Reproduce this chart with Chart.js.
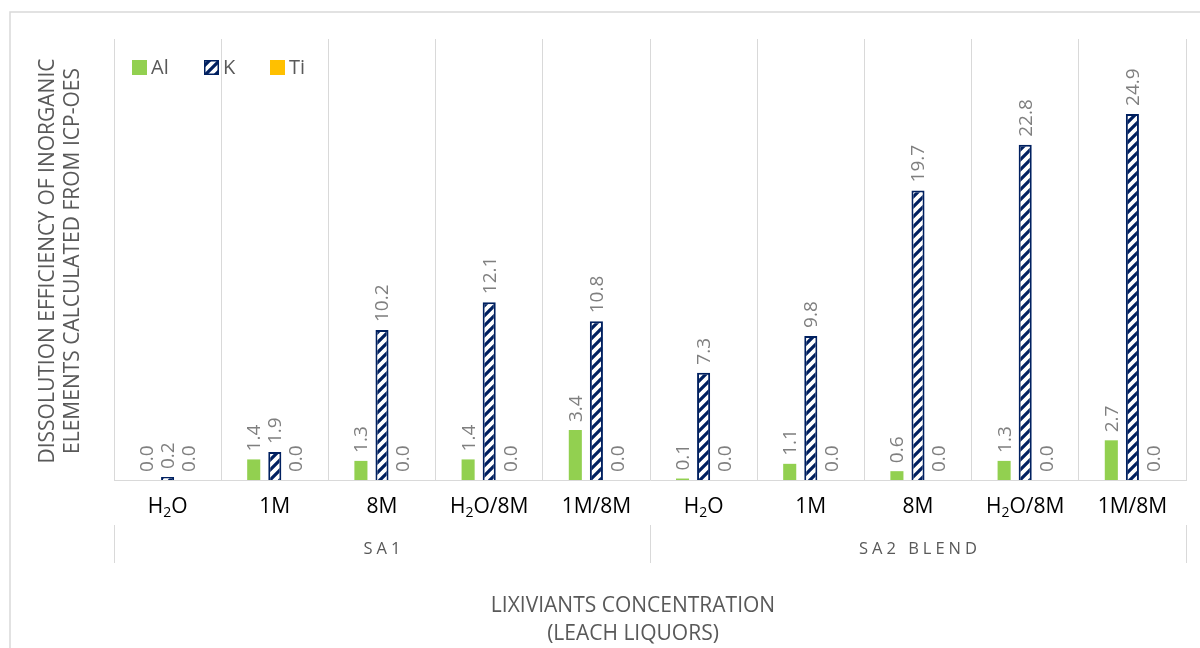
<!DOCTYPE html>
<html>
<head>
<meta charset="utf-8">
<script src="https://cdn.jsdelivr.net/npm/chart.js@4.4.1/dist/chart.umd.min.js"></script>
<style>
  html, body { margin: 0; padding: 0; background: #ffffff; }
  #wrap { width: 1200px; height: 648px; }
</style>
</head>
<body>
<div id="wrap"><canvas id="chart" width="1200" height="648"></canvas></div>
<script>
// Leach liquor conditions, grouped by sample
const categories = ["H₂O", "1M", "8M", "H₂O/8M", "1M/8M", "H₂O", "1M", "8M", "H₂O/8M", "1M/8M"];
const groups = ["SA1", "SA2 BLEND"];
const groupSizes = [5, 5];

// Dissolution efficiency (%) per element
const alValues = [0.0, 1.4, 1.3, 1.4, 3.4, 0.1, 1.1, 0.6, 1.3, 2.7];
const kValues  = [0.2, 1.9, 10.2, 12.1, 10.8, 7.3, 9.8, 19.7, 22.8, 24.9];
const tiValues = [0.0, 0.0, 0.0, 0.0, 0.0, 0.0, 0.0, 0.0, 0.0, 0.0];

const seriesNames = ["Al", "K", "Ti"];
const yTitle = ["DISSOLUTION EFFICIENCY OF INORGANIC", "ELEMENTS CALCULATED FROM ICP-OES"];
const xTitle = ["LIXIVIANTS CONCENTRATION", "(LEACH LIQUORS)"];

const FONT = "'Open Sans', 'Liberation Sans', sans-serif";
const GREEN = "#92d050";
const NAVY = "#002060";
const GOLD = "#ffc000";
const GRID = "#d9d9d9";

// White/navy diagonal hatch used for the K series
function makeHatch() {
  const p = 10;
  const c = document.createElement("canvas");
  c.width = p; c.height = p;
  const g = c.getContext("2d");
  g.fillStyle = "#ffffff";
  g.fillRect(0, 0, p, p);
  g.strokeStyle = NAVY;
  g.lineWidth = 3.2;
  g.lineCap = "square";
  for (const k of [-p, 0, p]) {
    g.beginPath();
    g.moveTo(k, p);
    g.lineTo(k + p, 0);
    g.stroke();
  }
  return g.createPattern(c, "repeat");
}
const hatch = makeHatch();

// Draw a label where "₂" is rendered as a lowered, smaller "2"
function drawRich(ctx, text, cx, cy, size) {
  const parts = text.split("₂");
  const big = size + "px " + FONT;
  const small = Math.round(size * 0.68) + "px " + FONT;
  let total = 0;
  const pieces = [];
  parts.forEach((s, i) => {
    ctx.font = big;
    pieces.push({ t: s, f: big, dy: 0, w: ctx.measureText(s).width });
    if (i < parts.length - 1) {
      ctx.font = small;
      pieces.push({ t: "2", f: small, dy: size * 0.28, w: ctx.measureText("2").width });
    }
  });
  pieces.forEach(p => total += p.w);
  let x = cx - total / 2;
  ctx.textAlign = "left";
  ctx.textBaseline = "middle";
  pieces.forEach(p => {
    ctx.font = p.f;
    ctx.fillText(p.t, x, cy + p.dy);
    x += p.w;
  });
}

function drawSpaced(ctx, text, cx, cy, spacing) {
  let w = 0;
  const ws = [...text].map(ch => ctx.measureText(ch).width);
  ws.forEach(v => w += v);
  w += spacing * (text.length - 1);
  let x = cx - w / 2;
  ctx.textAlign = "left";
  [...text].forEach((ch, i) => {
    ctx.fillText(ch, x, cy);
    x += ws[i] + spacing;
  });
}

const decorPlugin = {
  id: "decor",
  beforeDraw(chart) {
    const ctx = chart.ctx;
    ctx.save();
    ctx.fillStyle = "#ffffff";
    ctx.fillRect(0, 0, chart.width, chart.height);
    ctx.strokeStyle = GRID;
    ctx.lineWidth = 1.5;
    ctx.strokeRect(10, 12, 1400, 900);
    ctx.restore();
  },
  afterDatasetsDraw(chart) {
    const ctx = chart.ctx;
    ctx.save();
    ctx.fillStyle = "#7f7f7f";
    ctx.font = "19px " + FONT;
    ctx.textAlign = "left";
    ctx.textBaseline = "middle";
    chart.data.datasets.forEach((ds, di) => {
      const meta = chart.getDatasetMeta(di);
      meta.data.forEach((el, i) => {
        ctx.save();
        ctx.translate(el.x + 1, el.y - 8);
        ctx.rotate(-Math.PI / 2);
        ctx.fillText(ds.data[i].toFixed(1), 0, 0);
        ctx.restore();
      });
    });
    ctx.restore();
  },
  afterDraw(chart) {
    const ctx = chart.ctx;
    const xs = chart.scales.x;
    const area = chart.chartArea;
    ctx.save();

    // category labels
    ctx.fillStyle = "#000000";
    categories.forEach((c, i) => {
      drawRich(ctx, c, xs.getPixelForValue(i), area.bottom + 27, 21);
    });

    // group labels and separators
    const half = (xs.getPixelForValue(1) - xs.getPixelForValue(0)) / 2;
    ctx.strokeStyle = GRID;
    ctx.lineWidth = 1;
    let start = 0;
    const edges = [];
    groupSizes.forEach((n, gi) => {
      const left = xs.getPixelForValue(start) - half;
      const right = xs.getPixelForValue(start + n - 1) + half;
      edges.push(left, right);
      ctx.fillStyle = "#595959";
      ctx.font = "16.5px " + FONT;
      ctx.textBaseline = "middle";
      drawSpaced(ctx, groups[gi], (left + right) / 2, area.bottom + 69, 4);
      start += n;
    });
    [...new Set(edges.map(v => Math.round(v)))].forEach(x => {
      ctx.beginPath();
      ctx.moveTo(x + 0.5, area.bottom + 45);
      ctx.lineTo(x + 0.5, area.bottom + 83);
      ctx.stroke();
    });

    // axis titles
    ctx.fillStyle = "#595959";
    ctx.font = "21px " + FONT;
    ctx.textAlign = "center";
    ctx.textBaseline = "middle";
    ctx.fillText(xTitle[0], (area.left + area.right) / 2 - 17, area.bottom + 126);
    ctx.fillText(xTitle[1], (area.left + area.right) / 2 - 17, area.bottom + 154);

    ctx.save();
    ctx.translate(48, 261);
    ctx.rotate(-Math.PI / 2);
    ctx.fillText(yTitle[0], 0, 0);
    ctx.fillText(yTitle[1], 0, 25);
    ctx.restore();

    // legend
    const legend = [
      { name: seriesNames[0], x: 132, fill: GREEN },
      { name: seriesNames[1], x: 204, fill: hatch, border: NAVY },
      { name: seriesNames[2], x: 270, fill: GOLD }
    ];
    ctx.font = "20px " + FONT;
    ctx.textAlign = "left";
    legend.forEach(l => {
      ctx.fillStyle = l.fill;
      ctx.fillRect(l.x, 60, 15, 15);
      if (l.border) {
        ctx.strokeStyle = l.border;
        ctx.lineWidth = 1.5;
        ctx.strokeRect(l.x + 0.75, 60.75, 13.5, 13.5);
      }
      ctx.fillStyle = "#595959";
      ctx.fillText(l.name, l.x + 19, 68);
    });
    ctx.restore();
  }
};

new Chart(document.getElementById("chart"), {
  type: "bar",
  data: {
    labels: categories,
    datasets: [
      { label: seriesNames[0], data: alValues, backgroundColor: GREEN, borderWidth: 0 },
      { label: seriesNames[1], data: kValues, backgroundColor: hatch, borderColor: NAVY, borderWidth: 2 },
      { label: seriesNames[2], data: tiValues, backgroundColor: GOLD, borderWidth: 0 }
    ]
  },
  options: {
    responsive: false,
    animation: false,
    devicePixelRatio: 1,
    layout: { padding: { left: 114, right: 14, top: 39, bottom: 168 } },
    datasets: { bar: { categoryPercentage: 0.59, barPercentage: 0.62 } },
    plugins: { legend: { display: false }, tooltip: { enabled: false } },
    scales: {
      x: {
        display: true,
        offset: true,
        grid: { display: true, offset: true, color: GRID, lineWidth: 1, drawTicks: false },
        border: { display: true, color: GRID, width: 1 },
        ticks: { display: false }
      },
      y: {
        display: false,
        min: 0,
        max: 30
      }
    }
  },
  plugins: [decorPlugin]
});
</script>
</body>
</html>
